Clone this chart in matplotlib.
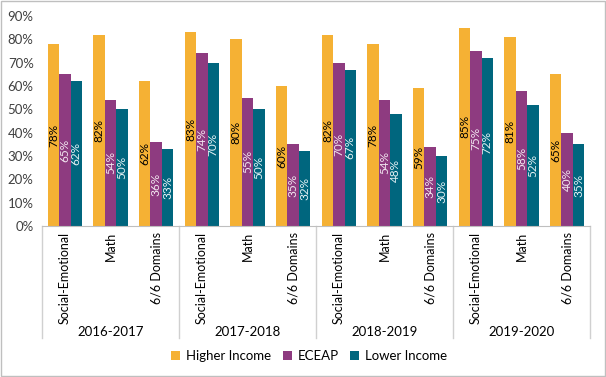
import matplotlib.pyplot as plt
import numpy as np
from matplotlib.patches import Rectangle
from matplotlib.transforms import blended_transform_factory

plt.rcParams["font.family"] = ["Lato", "DejaVu Sans"]

years = ["2016-2017", "2017-2018", "2018-2019", "2019-2020"]
domains = ["Social-Emotional", "Math", "6/6 Domains"]
higher_income = [78, 82, 62, 83, 80, 60, 82, 78, 59, 85, 81, 65]
eceap = [65, 54, 36, 74, 55, 35, 70, 54, 34, 75, 58, 40]
lower_income = [62, 50, 33, 70, 50, 32, 67, 48, 30, 72, 52, 35]

series = [
    ("Higher Income", higher_income, "#F5B134", "black"),
    ("ECEAP", eceap, "#8E3B80", "#F2E6F0"),
    ("Lower Income", lower_income, "#00667E", "#E6F2F5"),
]

W, H = 606, 377
fig = plt.figure(figsize=(W / 100, H / 100), dpi=100)
fig.patches.append(Rectangle((0.001, 0.002), 0.997, 0.995, transform=fig.transFigure,
                             fill=False, edgecolor="#BFBFBF", linewidth=1))
ax = fig.add_axes([42 / W, 1 - 226 / H, (590 - 42) / W, (226 - 16) / H])

x = np.arange(len(higher_income))
bw = 0.25
for i, (name, vals, color, tcolor) in enumerate(series):
    pos = x + (i - 1) * bw
    ax.bar(pos, vals, width=bw, color=color, label=name, edgecolor="none")
    for p, v in zip(pos, vals):
        ax.text(p, v / 2, f"{v}%", rotation=90, ha="center", va="center",
                fontsize=8.5, color=tcolor)

ax.set_xlim(-0.5, len(x) - 0.5)
ax.set_ylim(0, 90)
ax.set_yticks(range(0, 91, 10))
ax.set_yticklabels([f"{t}%" for t in range(0, 91, 10)], fontsize=9.5, color="#404040")
ax.tick_params(axis="y", length=0, pad=6)
ax.set_xticks([])
for s in ["top", "right", "left"]:
    ax.spines[s].set_visible(False)
ax.spines["bottom"].set_color("#BFBFBF")

trans = blended_transform_factory(ax.transData, ax.transAxes)
axh = (226 - 16)
for b in np.arange(-0.5, len(x), 3):
    ax.plot([b, b], [0, -(338 - 226) / axh], transform=trans, color="#D0D0D0",
            linewidth=1, clip_on=False)
for k in x:
    ax.text(k, -6 / axh, domains[k % 3], transform=trans, rotation=90,
            ha="center", va="top", fontsize=9, color="black")
for g, yr in enumerate(years):
    ax.text(g * 3 + 1, -(332 - 226) / axh, yr, transform=trans, ha="center",
            va="center", fontsize=9.5, color="black")

ax.legend(loc="center", bbox_to_anchor=(0.51, 1 - 356 / H), bbox_transform=fig.transFigure,
          ncol=3, frameon=False, fontsize=9.5, handlelength=0.7, handleheight=0.7,
          handletextpad=0.4, columnspacing=0.9)

fig.savefig("out.png", dpi=100)
